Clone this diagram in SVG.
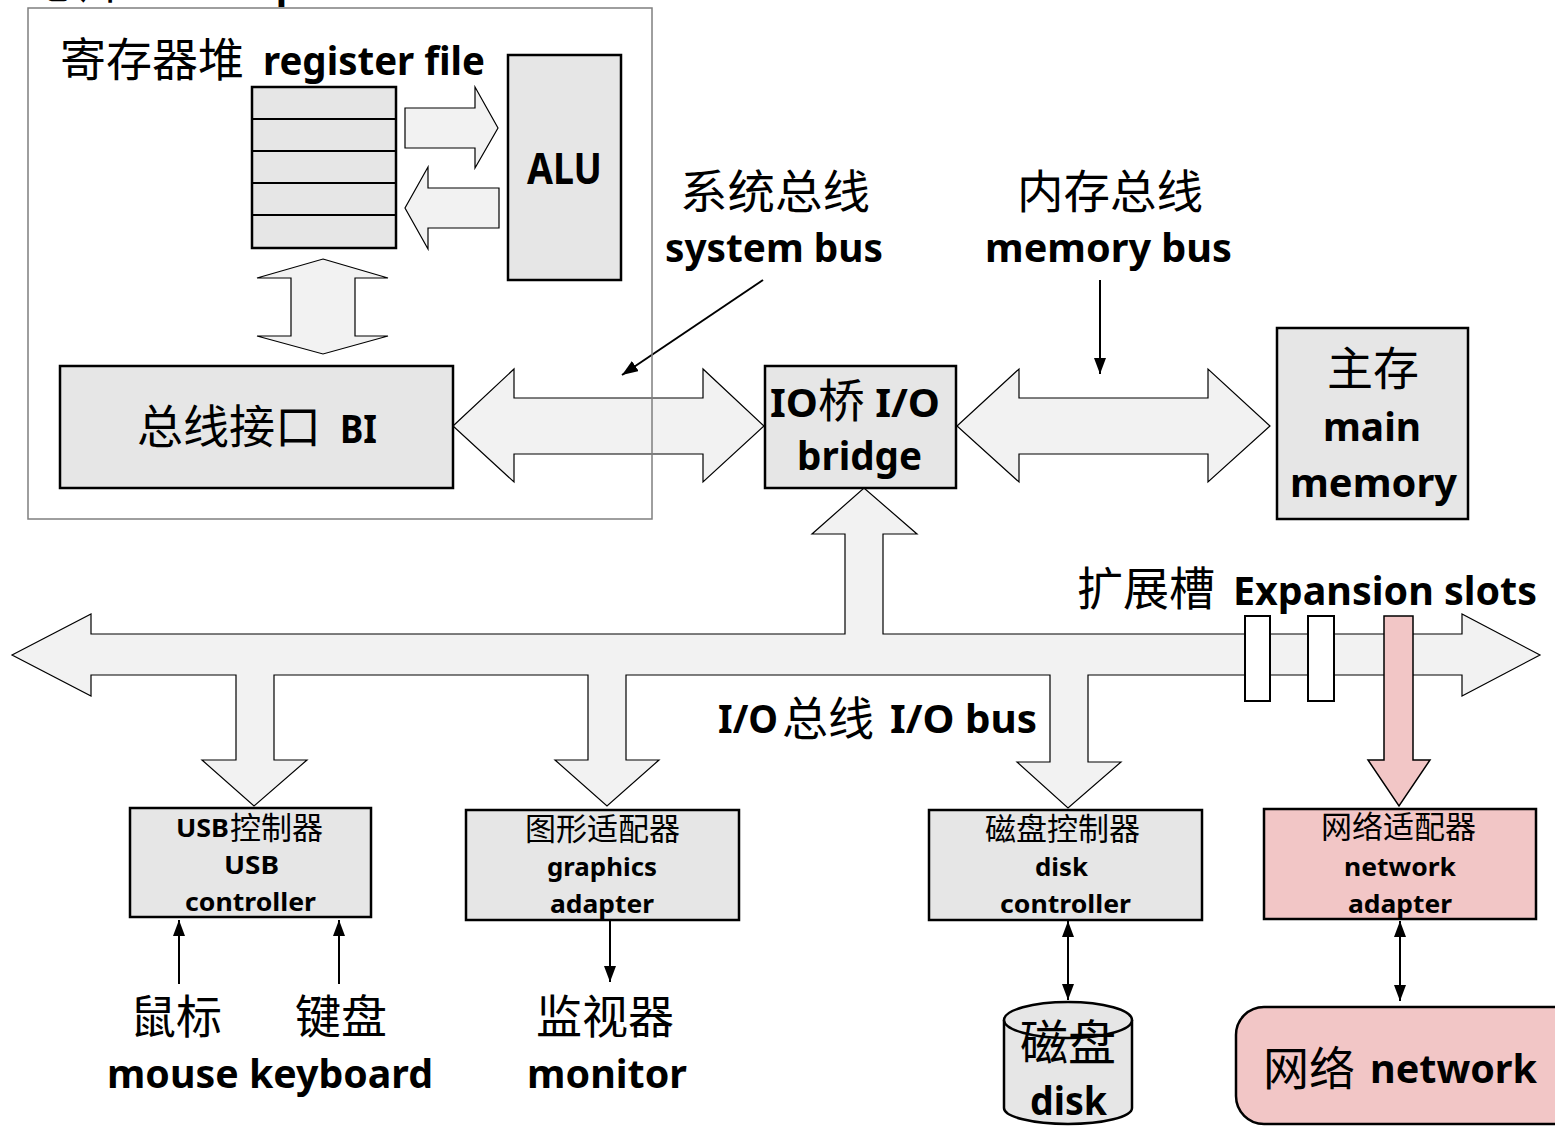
<svg xmlns="http://www.w3.org/2000/svg" width="1555" height="1126" viewBox="0 0 1555 1126">
  <defs>
    <style>
      .en { font-family: "Noto Sans", "Open Sans", "Liberation Sans", sans-serif; font-weight: 700; fill: #000; }
      .zh { font-family: "Noto Sans CJK SC", "Noto Sans", sans-serif; font-weight: 400; fill: #000; }
      .big { font-size: 40px; }
      .bigzh { font-size: 46px; }
      .sm { font-size: 25px; }
      .smzh { font-size: 31px; }
      .box { fill: #e6e6e6; stroke: #000; stroke-width: 2.5; }
      .pink { fill: #f2c6c6; stroke: #000; stroke-width: 2.5; }
      .blk { fill: #f2f2f2; stroke: #000; stroke-width: 1.2; stroke-linejoin: miter; }
      .blkpink { fill: #f2c6c6; stroke: #000; stroke-width: 1.5; }
      .wire { stroke: #000; stroke-width: 2; fill: none; }
    </style>
    <marker id="ah" viewBox="0 0 16 12" refX="16" refY="6" markerWidth="16" markerHeight="12" markerUnits="userSpaceOnUse" orient="auto-start-reverse">
      <path d="M0,0 L16,6 L0,12 z" fill="#000"/>
    </marker>
  </defs>

  <rect width="1555" height="1126" fill="#fff"/>

  <!-- chip title, mostly above the top edge -->
  <g id="chip-title">
    <text x="-42" y="-2" textLength="342" lengthAdjust="spacingAndGlyphs"><tspan class="en big">CPU</tspan><tspan class="zh bigzh">芯片</tspan><tspan class="en big"> CPU chip</tspan></text>
  </g>

  <!-- buses and data-path arrows -->
  <g id="connectors">
    <!-- register file to ALU -->
    <polygon class="blk" points="405,108 475,108 475,87 498,128 475,168 475,148 405,148"/>
    <!-- ALU to register file -->
    <polygon class="blk" points="499,188 428,188 428,167 405,208 428,249 428,228 499,228"/>
    <!-- register file to bus interface -->
    <polygon class="blk" points="323,259 388,278 355,278 355,336 388,336 323,354 257,336 291,336 291,278 257,278"/>
    <!-- system bus -->
    <polygon class="blk" points="453,426 514,369 514,398 703,398 703,369 764,426 703,482 703,454 514,454 514,482"/>
    <!-- memory bus -->
    <polygon class="blk" points="957,426 1019,369 1019,398 1208,398 1208,369 1270,426 1208,482 1208,454 1019,454 1019,482"/>
    <!-- I/O bus with branch to the bridge and drops to the controllers -->
    <polygon class="blk" points="12,655 91,614 91,634 845,634 845,534 812,534 864,488 917,534 883,534 883,634 1462,634 1462,614 1540,655 1462,696 1462,675 1088,675 1088,762 1121,762 1068,808 1017,762 1050,762 1050,675 626,675 626,760 659,760 607,806 555,760 588,760 588,675 274,675 274,760 307,760 254,806 202,760 236,760 236,675 91,675 91,696"/>
    <!-- network adapter in an expansion slot -->
    <polygon class="blkpink" points="1384,616 1413,616 1413,760 1430,760 1399,806 1368,760 1384,760"/>

    <!-- label pointers -->
    <line class="wire" x1="763" y1="280" x2="622" y2="375" marker-end="url(#ah)"/>
    <line class="wire" x1="1100" y1="280" x2="1100" y2="374" marker-end="url(#ah)"/>

    <!-- device links -->
    <line class="wire" x1="179" y1="984" x2="179" y2="920" marker-end="url(#ah)"/>
    <line class="wire" x1="339" y1="984" x2="339" y2="920" marker-end="url(#ah)"/>
    <line class="wire" x1="610" y1="920" x2="610" y2="982" marker-end="url(#ah)"/>
    <line class="wire" x1="1068" y1="921" x2="1068" y2="1000" marker-start="url(#ah)" marker-end="url(#ah)"/>
    <line class="wire" x1="1400" y1="921" x2="1400" y2="1001" marker-start="url(#ah)" marker-end="url(#ah)"/>
  </g>

  <!-- CPU chip outline -->
  <g id="cpu-chip">
    <rect x="28" y="8" width="624" height="511" fill="none" stroke="#7f7f7f" stroke-width="1.5"/>
  </g>

  <g id="register-file">
    <text class="zh bigzh" x="60" y="76">寄存器堆</text>
    <text class="en big" x="263" y="75" textLength="222" lengthAdjust="spacingAndGlyphs">register file</text>
    <rect class="box" x="252" y="87" width="144" height="161"/>
    <line class="wire" stroke-width="2.5" x1="252" y1="119" x2="396" y2="119"/>
    <line class="wire" stroke-width="2.5" x1="252" y1="151" x2="396" y2="151"/>
    <line class="wire" stroke-width="2.5" x1="252" y1="183" x2="396" y2="183"/>
    <line class="wire" stroke-width="2.5" x1="252" y1="215" x2="396" y2="215"/>
  </g>

  <g id="alu">
    <rect class="box" x="508" y="55" width="113" height="225"/>
    <text class="en" font-size="43" x="527" y="184" textLength="75" lengthAdjust="spacingAndGlyphs">ALU</text>
  </g>

  <g id="bus-interface">
    <rect class="box" x="60" y="366" width="393" height="122"/>
    <text class="zh bigzh" x="137" y="443">总线接口</text>
    <text class="en big" x="340" y="443" textLength="37" lengthAdjust="spacingAndGlyphs">BI</text>
  </g>

  <g id="system-bus-label">
    <text class="zh bigzh" x="680" y="208" textLength="190" lengthAdjust="spacingAndGlyphs">系统总线</text>
    <text class="en big" x="665" y="262" textLength="218" lengthAdjust="spacingAndGlyphs">system bus</text>
  </g>

  <g id="memory-bus-label">
    <text class="zh bigzh" x="1017" y="208" textLength="186" lengthAdjust="spacingAndGlyphs">内存总线</text>
    <text class="en big" x="985" y="262" textLength="247" lengthAdjust="spacingAndGlyphs">memory bus</text>
  </g>

  <g id="io-bridge">
    <rect class="box" x="765" y="366" width="191" height="122"/>
    <text x="770" y="417" textLength="170" lengthAdjust="spacingAndGlyphs"><tspan class="en big">IO</tspan><tspan class="zh bigzh">桥</tspan><tspan class="en big"> I/O</tspan></text>
    <text class="en big" x="797" y="470" textLength="125" lengthAdjust="spacingAndGlyphs">bridge</text>
  </g>

  <g id="main-memory">
    <rect class="box" x="1277" y="328" width="191" height="191"/>
    <text class="zh bigzh" x="1327" y="385">主存</text>
    <text class="en big" x="1323" y="441" textLength="98" lengthAdjust="spacingAndGlyphs">main</text>
    <text class="en big" x="1290" y="497" textLength="167" lengthAdjust="spacingAndGlyphs">memory</text>
  </g>

  <g id="expansion-slots">
    <rect x="1245" y="616" width="25" height="85" fill="#fff" stroke="#000" stroke-width="2"/>
    <rect x="1308" y="616" width="26" height="85" fill="#fff" stroke="#000" stroke-width="2"/>
    <text class="zh bigzh" x="1077" y="605">扩展槽</text>
    <text class="en big" x="1233" y="605" textLength="304" lengthAdjust="spacingAndGlyphs">Expansion slots</text>
  </g>

  <g id="io-bus-label">
    <text class="en big" x="718" y="733" textLength="60" lengthAdjust="spacingAndGlyphs">I/O</text>
    <text class="zh bigzh" x="782" y="735">总线</text>
    <text class="en big" x="890" y="733" textLength="147" lengthAdjust="spacingAndGlyphs">I/O bus</text>
  </g>

  <g id="usb-controller">
    <rect class="box" x="130" y="808" width="241" height="109"/>
    <text class="en sm" x="176" y="837" textLength="53" lengthAdjust="spacingAndGlyphs">USB</text>
    <text class="zh smzh" x="230" y="839">控制器</text>
    <text class="en sm" x="224" y="874" textLength="55" lengthAdjust="spacingAndGlyphs">USB</text>
    <text class="en sm" x="185" y="911" textLength="131" lengthAdjust="spacingAndGlyphs">controller</text>
  </g>

  <g id="graphics-adapter">
    <rect class="box" x="466" y="810" width="273" height="110"/>
    <text class="zh smzh" x="525" y="840">图形适配器</text>
    <text class="en sm" x="547" y="876" textLength="110" lengthAdjust="spacingAndGlyphs">graphics</text>
    <text class="en sm" x="550" y="913" textLength="104" lengthAdjust="spacingAndGlyphs">adapter</text>
  </g>

  <g id="disk-controller">
    <rect class="box" x="929" y="810" width="273" height="110"/>
    <text class="zh smzh" x="985" y="840">磁盘控制器</text>
    <text class="en sm" x="1035" y="876" textLength="53" lengthAdjust="spacingAndGlyphs">disk</text>
    <text class="en sm" x="1000" y="913" textLength="131" lengthAdjust="spacingAndGlyphs">controller</text>
  </g>

  <g id="network-adapter">
    <rect class="pink" x="1264" y="809" width="272" height="110"/>
    <text class="zh smzh" x="1321" y="838">网络适配器</text>
    <text class="en sm" x="1344" y="876" textLength="112" lengthAdjust="spacingAndGlyphs">network</text>
    <text class="en sm" x="1348" y="913" textLength="104" lengthAdjust="spacingAndGlyphs">adapter</text>
  </g>

  <g id="mouse">
    <text class="zh bigzh" x="130" y="1033">鼠标</text>
  </g>
  <g id="keyboard">
    <text class="zh bigzh" x="295" y="1033">键盘</text>
  </g>
  <g id="mouse-keyboard-caption">
    <text class="en big" x="107" y="1088" textLength="326" lengthAdjust="spacingAndGlyphs">mouse keyboard</text>
  </g>

  <g id="monitor">
    <text class="zh bigzh" x="536" y="1033">监视器</text>
    <text class="en big" x="527" y="1088" textLength="160" lengthAdjust="spacingAndGlyphs">monitor</text>
  </g>

  <g id="disk">
    <path class="box" d="M1004,1020 L1004,1108 A64,16 0 0 0 1132,1108 L1132,1020"/>
    <ellipse class="box" cx="1068" cy="1020" rx="64" ry="18"/>
    <text class="zh" font-size="48" x="1020" y="1060">磁盘</text>
    <text class="en big" x="1030" y="1115" textLength="77" lengthAdjust="spacingAndGlyphs">disk</text>
  </g>

  <g id="network">
    <rect class="pink" x="1236" y="1007" width="345" height="117" rx="28" ry="28"/>
    <text class="zh bigzh" x="1263" y="1085">网络</text>
    <text class="en big" x="1370" y="1083" textLength="167" lengthAdjust="spacingAndGlyphs">network</text>
  </g>
</svg>
